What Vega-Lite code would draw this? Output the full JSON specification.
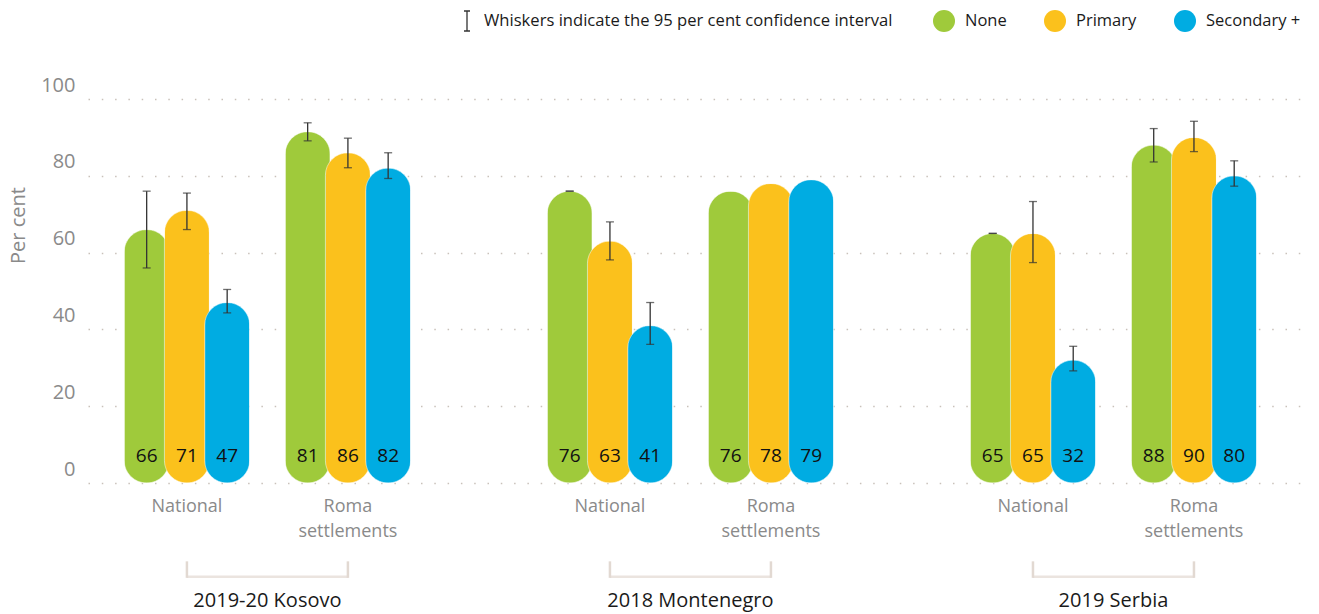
{
  "$schema": "https://vega.github.io/schema/vega-lite/v6.json",
  "width": 1220,
  "height": 384,
  "autosize": {"type": "none"},
  "padding": {"left": 88, "top": 99, "right": 11, "bottom": 131},
  "background": "white",
  "datasets": {
    "bars": [
      {"country": "2019-20 Kosovo", "bar": "National-None", "edu": "None", "value": 66, "label": "66", "lo": 56, "hi": 76},
      {"country": "2019-20 Kosovo", "bar": "National-Primary", "edu": "Primary", "value": 71, "label": "71", "lo": 66, "hi": 75.5},
      {"country": "2019-20 Kosovo", "bar": "National-Secondary +", "edu": "Secondary +", "value": 47, "label": "47", "lo": 44.3, "hi": 50.4},
      {"country": "2019-20 Kosovo", "bar": "Roma-None", "edu": "None", "value": 91.5, "label": "81", "lo": 89.1, "hi": 93.8},
      {"country": "2019-20 Kosovo", "bar": "Roma-Primary", "edu": "Primary", "value": 86, "label": "86", "lo": 82.1, "hi": 89.8},
      {"country": "2019-20 Kosovo", "bar": "Roma-Secondary +", "edu": "Secondary +", "value": 82, "label": "82", "lo": 79.3, "hi": 86.0},
      {"country": "2018 Montenegro", "bar": "National-None", "edu": "None", "value": 76, "label": "76", "lo": 76, "hi": 76},
      {"country": "2018 Montenegro", "bar": "National-Primary", "edu": "Primary", "value": 63, "label": "63", "lo": 58.1, "hi": 68},
      {"country": "2018 Montenegro", "bar": "National-Secondary +", "edu": "Secondary +", "value": 41, "label": "41", "lo": 36.1, "hi": 47},
      {"country": "2018 Montenegro", "bar": "Roma-None", "edu": "None", "value": 76, "label": "76", "lo": null, "hi": null},
      {"country": "2018 Montenegro", "bar": "Roma-Primary", "edu": "Primary", "value": 78, "label": "78", "lo": null, "hi": null},
      {"country": "2018 Montenegro", "bar": "Roma-Secondary +", "edu": "Secondary +", "value": 79, "label": "79", "lo": null, "hi": null},
      {"country": "2019 Serbia", "bar": "National-None", "edu": "None", "value": 65, "label": "65", "lo": 65, "hi": 65},
      {"country": "2019 Serbia", "bar": "National-Primary", "edu": "Primary", "value": 65, "label": "65", "lo": 57.4, "hi": 73.3},
      {"country": "2019 Serbia", "bar": "National-Secondary +", "edu": "Secondary +", "value": 32, "label": "32", "lo": 29.2, "hi": 35.6},
      {"country": "2019 Serbia", "bar": "Roma-None", "edu": "None", "value": 88, "label": "88", "lo": 83.6, "hi": 92.3},
      {"country": "2019 Serbia", "bar": "Roma-Primary", "edu": "Primary", "value": 90, "label": "90", "lo": 86.3, "hi": 94.2},
      {"country": "2019 Serbia", "bar": "Roma-Secondary +", "edu": "Secondary +", "value": 80, "label": "80", "lo": 77.3, "hi": 83.9}
    ],
    "settings": [
      {"country": "2019-20 Kosovo", "bar": "National-Primary", "text": ["National"]},
      {"country": "2019-20 Kosovo", "bar": "Roma-Primary", "text": ["Roma", "settlements"]},
      {"country": "2018 Montenegro", "bar": "National-Primary", "text": ["National"]},
      {"country": "2018 Montenegro", "bar": "Roma-Primary", "text": ["Roma", "settlements"]},
      {"country": "2019 Serbia", "bar": "National-Primary", "text": ["National"]},
      {"country": "2019 Serbia", "bar": "Roma-Primary", "text": ["Roma", "settlements"]}
    ],
    "countries": [
      {"country": "2019-20 Kosovo"},
      {"country": "2018 Montenegro"},
      {"country": "2019 Serbia"}
    ]
  },
  "encoding": {
    "x": {
      "field": "country",
      "type": "nominal",
      "sort": null,
      "scale": {"type": "band", "domain": ["2019-20 Kosovo", "2018 Montenegro", "2019 Serbia"], "paddingInner": 0.334, "paddingOuter": 0.109, "align": 0.418},
      "axis": {"title": null, "orient": "bottom", "domain": false, "ticks": false, "labelPadding": 107, "labelFontSize": 20, "labelColor": "#1a1a1a", "labelBaseline": "top", "labelAngle": 0, "grid": false}
    }
  },
  "layer": [
    {
      "data": {"name": "bars"},
      "mark": {"type": "bar", "size": 45, "cornerRadius": 22.5, "stroke": "#ffffff", "strokeWidth": 0.8, "strokeOpacity": 0.6},
      "encoding": {
        "xOffset": {"field": "bar", "type": "nominal", "scale": {"domain": ["National-None", "National-Primary", "National-Secondary +", "", "Roma-None", "Roma-Primary", "Roma-Secondary +"], "paddingInner": 0, "paddingOuter": 0}},
        "y": {
          "field": "value",
          "type": "quantitative",
          "scale": {"domain": [0, 100], "nice": false, "zero": true},
          "axis": {"title": "Per cent", "values": [0, 20, 40, 60, 80, 100], "domain": false, "ticks": false, "labelPadding": 13, "labelFontSize": 20, "labelColor": "#8a8a8a", "labelBaseline": "alphabetic", "labelOffset": -8, "grid": true, "gridColor": "#c9c1ba", "gridDash": [1.5, 11.8], "gridWidth": 1.6, "titleFontSize": 20, "titleFontWeight": "normal", "titleColor": "#8a8a8a", "titleX": -70, "titleY": 126, "titleAlign": "center", "titleBaseline": "middle", "titleAngle": -90}
        },
        "color": {
          "field": "edu",
          "type": "nominal",
          "scale": {"domain": ["None", "Primary", "Secondary +"], "range": ["#9fca3b", "#fbc11c", "#00ace2"]},
          "legend": {"title": null, "orient": "none", "legendX": 845, "legendY": -89, "direction": "horizontal", "symbolType": "circle", "symbolSize": 484, "symbolOpacity": 1, "symbolStrokeWidth": 0, "labelFontSize": 16.5, "labelColor": "#1a1a1a", "labelOffset": 10, "columnPadding": 37, "padding": 0, "labelLimit": 300}
        }
      }
    },
    {
      "data": {"name": "bars"},
      "mark": {"type": "text", "fontSize": 19, "color": "#111111", "baseline": "middle", "align": "center"},
      "encoding": {
        "xOffset": {"field": "bar", "type": "nominal"},
        "y": {"datum": 7},
        "text": {"field": "label"}
      }
    },
    {
      "data": {"name": "bars"},
      "transform": [{"filter": "isValid(datum.lo)"}],
      "mark": {"type": "rule", "strokeWidth": 1.3},
      "encoding": {
        "xOffset": {"field": "bar", "type": "nominal"},
        "y": {"field": "lo", "type": "quantitative"},
        "y2": {"field": "hi"},
        "stroke": {
          "datum": "Whiskers indicate the 95 per cent confidence interval",
          "type": "nominal",
          "scale": {"range": ["#333333"]},
          "legend": {"title": null, "orient": "none", "legendX": 368, "legendY": -89, "symbolType": "M-0.3,-1H0.3M0,-1V1M-0.3,1H0.3", "symbolSize": 400, "symbolStrokeWidth": 1.3, "symbolFillColor": "transparent", "labelFontSize": 16.6, "labelColor": "#1a1a1a", "labelOffset": 6, "labelLimit": 600, "padding": 0}
        }
      }
    },
    {
      "data": {"name": "bars"},
      "transform": [{"filter": "isValid(datum.lo)"}],
      "mark": {"type": "tick", "size": 8, "thickness": 1.3, "color": "#333333", "orient": "horizontal"},
      "encoding": {
        "xOffset": {"field": "bar", "type": "nominal"},
        "y": {"field": "lo", "type": "quantitative"}
      }
    },
    {
      "data": {"name": "bars"},
      "transform": [{"filter": "isValid(datum.hi)"}],
      "mark": {"type": "tick", "size": 8, "thickness": 1.3, "color": "#333333", "orient": "horizontal"},
      "encoding": {
        "xOffset": {"field": "bar", "type": "nominal"},
        "y": {"field": "hi", "type": "quantitative"}
      }
    },
    {
      "data": {"name": "settings"},
      "mark": {"type": "text", "fontSize": 18, "color": "#8a8a8a", "baseline": "middle", "align": "center", "lineHeight": 25},
      "encoding": {
        "xOffset": {"field": "bar", "type": "nominal"},
        "y": {"datum": -6.3},
        "text": {"field": "text"}
      }
    },
    {
      "data": {"name": "countries"},
      "mark": {"type": "tick", "size": 161, "thickness": 2.5, "color": "#e2d9d2", "orient": "horizontal"},
      "encoding": {
        "y": {"datum": -24.4}
      }
    },
    {
      "data": {"name": "settings"},
      "mark": {"type": "rule", "strokeWidth": 2.5, "color": "#e2d9d2"},
      "encoding": {
        "xOffset": {"field": "bar", "type": "nominal"},
        "y": {"datum": -20.4},
        "y2": {"datum": -24.7}
      }
    }
  ],
  "config": {
    "view": {"stroke": null},
    "font": "Open Sans",
    "legend": {"labelFont": "Open Sans"}
  }
}
